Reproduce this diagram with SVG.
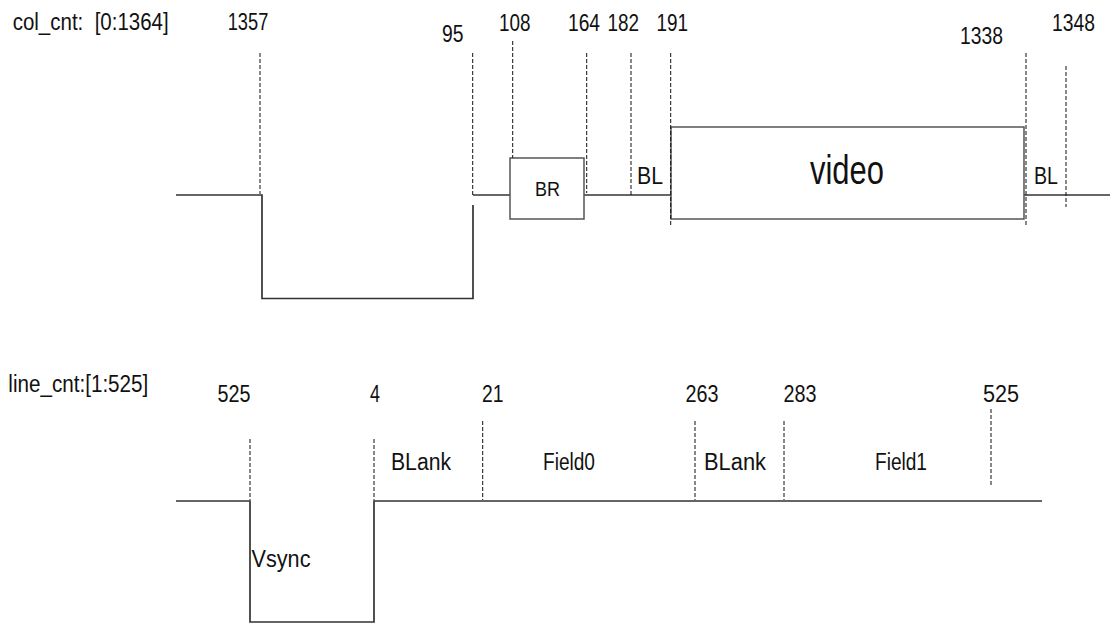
<svg xmlns="http://www.w3.org/2000/svg" width="1110" height="623" viewBox="0 0 1110 623">
<style>
  text { font-family: "Liberation Sans Narrow", "Liberation Sans", Arial, sans-serif; font-size: 23px; fill: #111; white-space: pre; }
  .sig { fill: none; stroke: #333; stroke-width: 1.7; }
  .box { fill: #fff; stroke: #555; stroke-width: 1.5; }
  .dash { fill: none; stroke: #111; stroke-width: 1; stroke-dasharray: 4 2; }
</style>
<rect width="1110" height="623" fill="#fff"/>

<g id="connectors">
  <path class="sig" d="M176,195 H262 V298.5 H473 V205"/>
  <path class="sig" d="M473,195 H510"/>
  <path class="sig" d="M584,195 H671"/>
  <path class="sig" d="M1024,195 H1110"/>
  <path class="sig" d="M176,501 H250 V622 H374 V501 H1042"/>
</g>

<g id="node-col-title"><text x="12.7" y="30" textLength="156" lengthAdjust="spacingAndGlyphs">col_cnt:  [0:1364]</text></g>

<g id="node-br">
  <rect class="box" x="510" y="158" width="74" height="61"/>
  <text x="535" y="195.5" textLength="25" lengthAdjust="spacingAndGlyphs" style="font-size:21px">BR</text>
</g>
<g id="node-video">
  <rect class="box" x="671" y="127" width="353" height="92"/>
  <text x="810" y="183.5" style="font-size:40px" textLength="74" lengthAdjust="spacingAndGlyphs">video</text>
</g>

<g id="markers-col">
  <line class="dash" x1="260" y1="53" x2="260" y2="194"/>
  <line class="dash" x1="472.7" y1="53" x2="472.7" y2="195"/>
  <line class="dash" x1="512.7" y1="41" x2="512.7" y2="158"/>
  <line class="dash" x1="586.7" y1="53" x2="586.7" y2="193"/>
  <line class="dash" x1="631" y1="53" x2="631" y2="195"/>
  <line class="dash" x1="670.7" y1="53" x2="670.7" y2="226"/>
  <line class="dash" x1="1026" y1="53" x2="1026" y2="226"/>
  <line class="dash" x1="1066" y1="66" x2="1066" y2="207"/>
</g>
<g id="labels-col">
  <text x="227.7" y="30" textLength="40.6" lengthAdjust="spacingAndGlyphs">1357</text>
  <text x="442" y="42" textLength="21.5" lengthAdjust="spacingAndGlyphs">95</text>
  <text x="499" y="31" textLength="31.5" lengthAdjust="spacingAndGlyphs">108</text>
  <text x="568" y="31" textLength="32" lengthAdjust="spacingAndGlyphs">164</text>
  <text x="607.5" y="31" textLength="31.5" lengthAdjust="spacingAndGlyphs">182</text>
  <text x="656.5" y="31" textLength="31.5" lengthAdjust="spacingAndGlyphs">191</text>
  <text x="960" y="44" textLength="43" lengthAdjust="spacingAndGlyphs">1338</text>
  <text x="1052" y="31" textLength="43" lengthAdjust="spacingAndGlyphs">1348</text>
  <text x="637" y="184" textLength="26" lengthAdjust="spacingAndGlyphs">BL</text>
  <text x="1034" y="184" textLength="24" lengthAdjust="spacingAndGlyphs">BL</text>
</g>

<g id="node-line-title"><text x="8.3" y="392" textLength="140" lengthAdjust="spacingAndGlyphs">line_cnt:[1:525]</text></g>

<g id="markers-line">
  <line class="dash" x1="250" y1="439" x2="250" y2="500"/>
  <line class="dash" x1="374" y1="439" x2="374" y2="500"/>
  <line class="dash" x1="482.7" y1="421" x2="482.7" y2="500"/>
  <line class="dash" x1="695" y1="421" x2="695" y2="500"/>
  <line class="dash" x1="784" y1="421" x2="784" y2="500"/>
  <line class="dash" x1="991" y1="409" x2="991" y2="487"/>
</g>
<g id="labels-line">
  <text x="217.5" y="402" textLength="33" lengthAdjust="spacingAndGlyphs">525</text>
  <text x="370" y="402" textLength="10" lengthAdjust="spacingAndGlyphs">4</text>
  <text x="482" y="402" textLength="21.5" lengthAdjust="spacingAndGlyphs">21</text>
  <text x="685.5" y="402" textLength="33" lengthAdjust="spacingAndGlyphs">263</text>
  <text x="783.5" y="402" textLength="33" lengthAdjust="spacingAndGlyphs">283</text>
  <text x="983" y="402" textLength="36" lengthAdjust="spacingAndGlyphs">525</text>
  <text x="391" y="470" textLength="60" lengthAdjust="spacingAndGlyphs">BLank</text>
  <text x="543" y="470" textLength="52" lengthAdjust="spacingAndGlyphs">Field0</text>
  <text x="704" y="470" textLength="62" lengthAdjust="spacingAndGlyphs">BLank</text>
  <text x="875" y="470" textLength="52" lengthAdjust="spacingAndGlyphs">Field1</text>
  <text x="251.5" y="567" textLength="59" lengthAdjust="spacingAndGlyphs">Vsync</text>
</g>
</svg>
